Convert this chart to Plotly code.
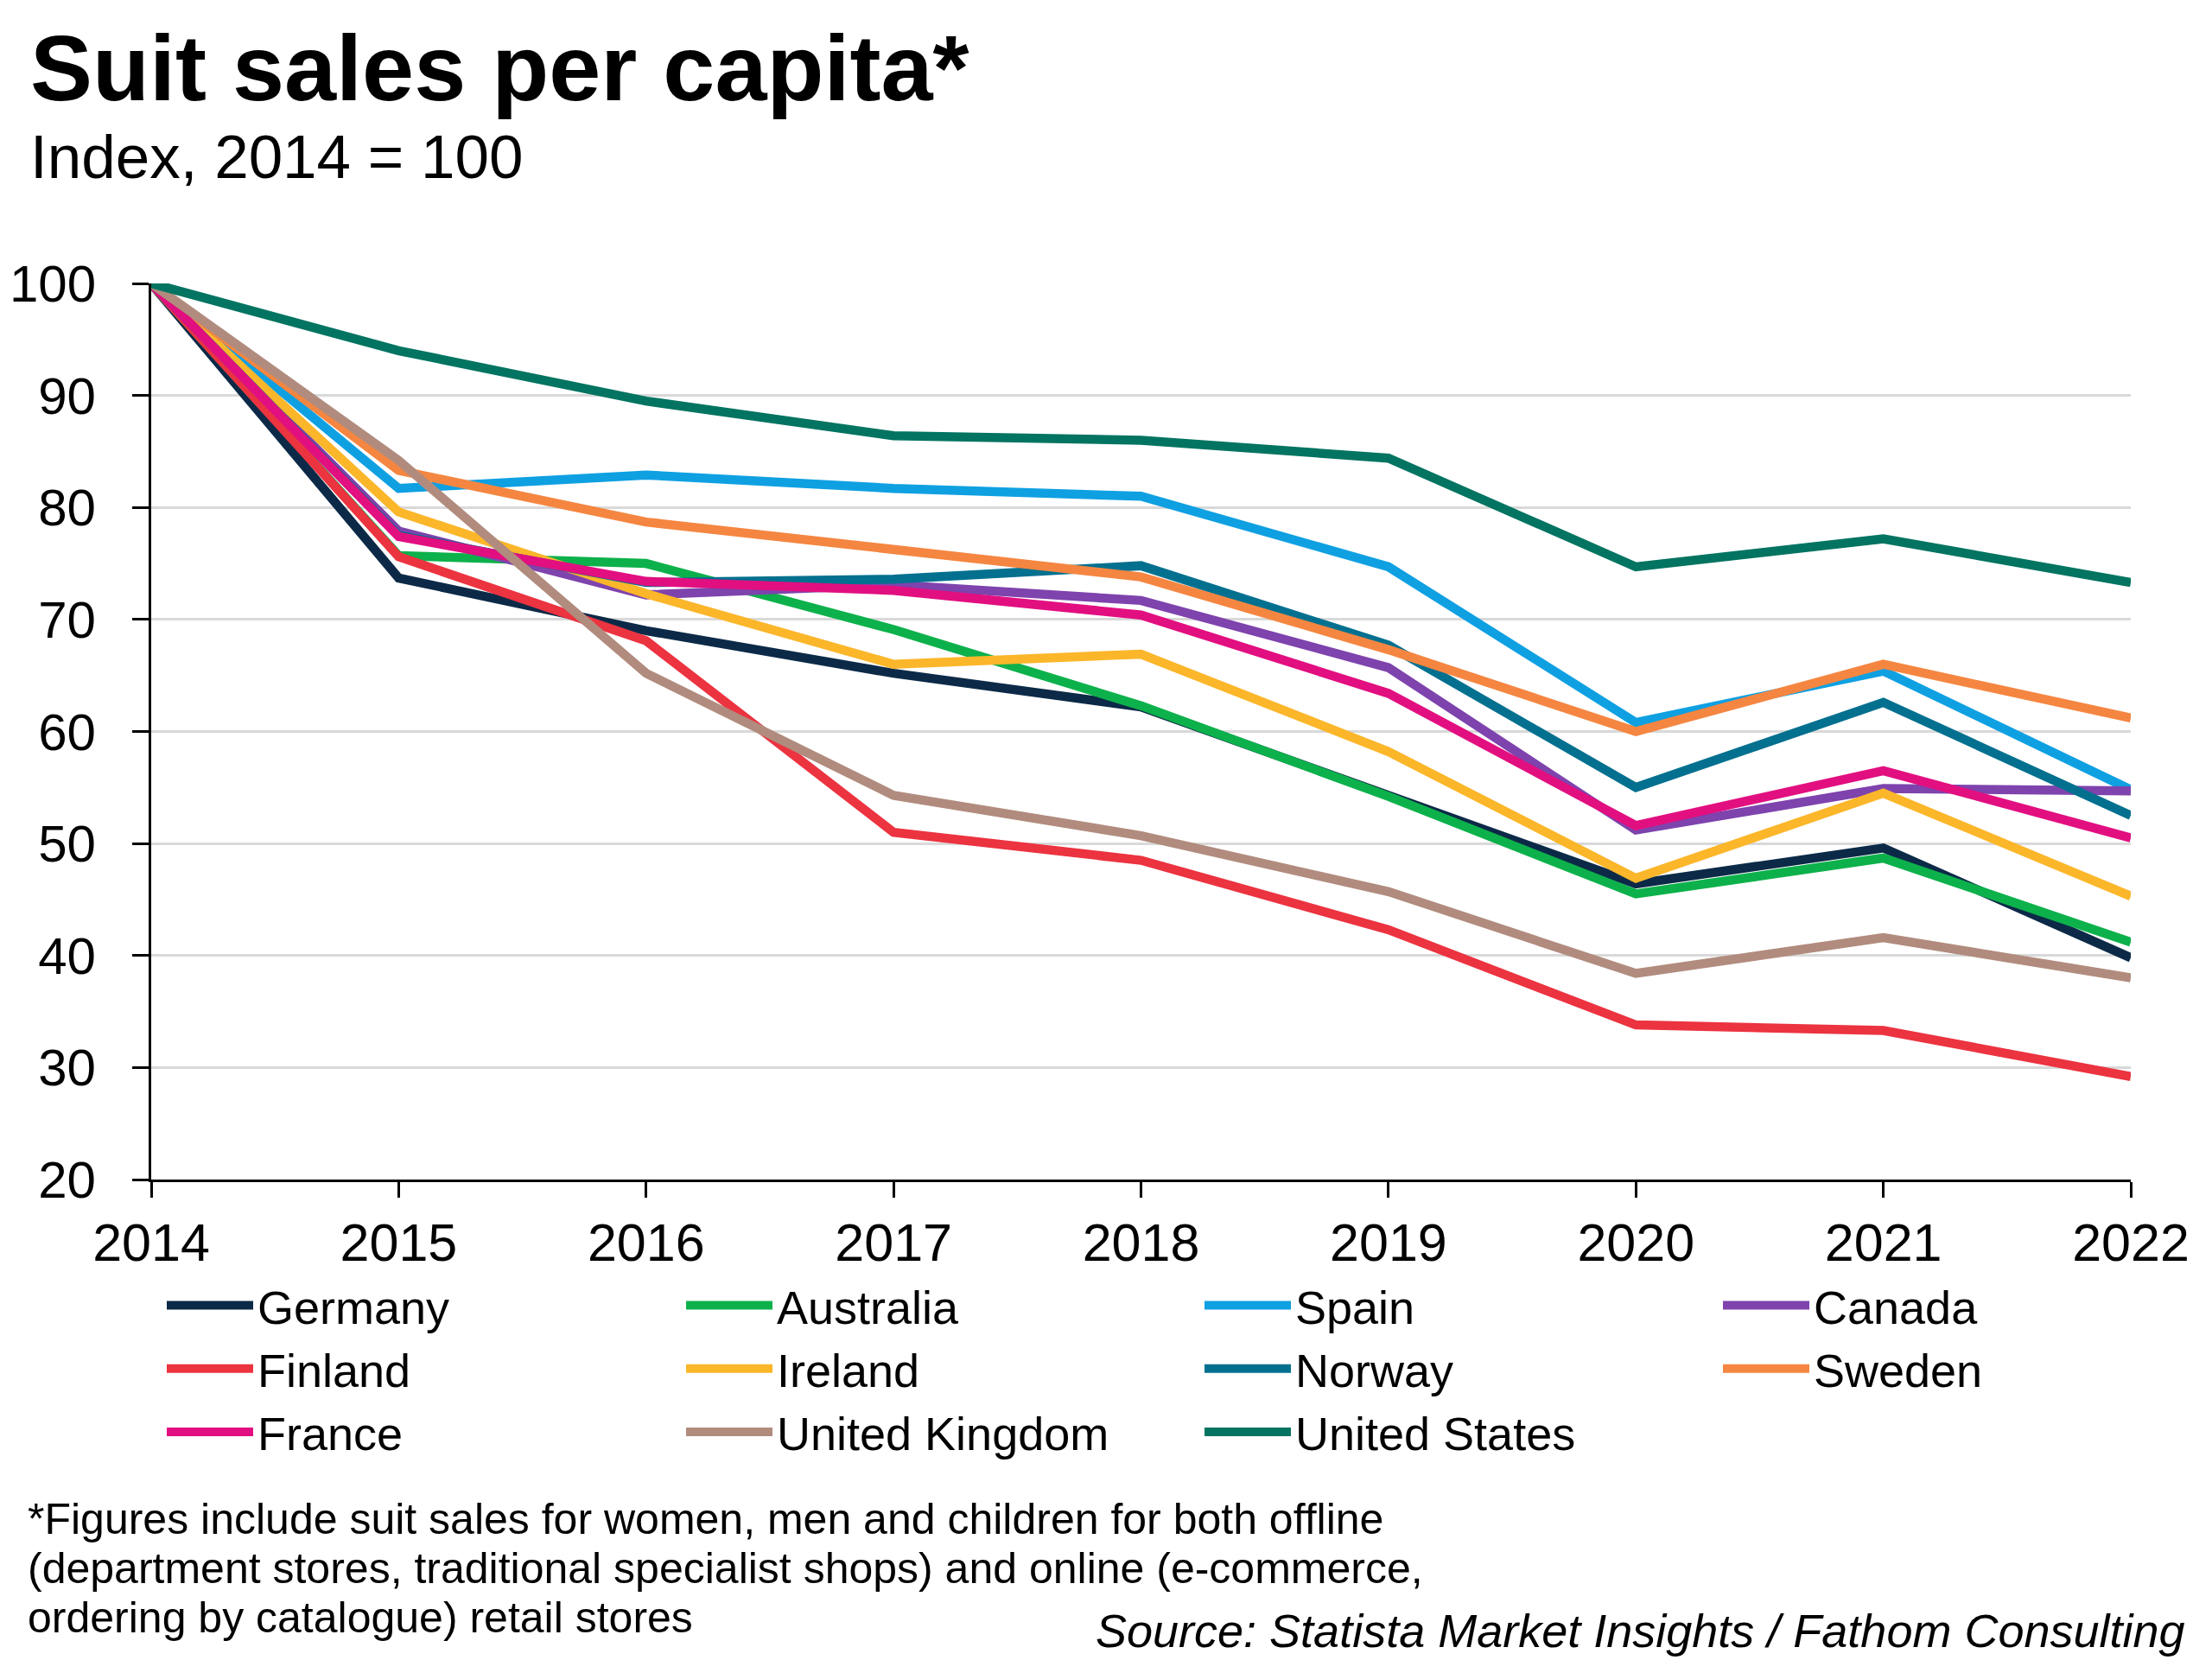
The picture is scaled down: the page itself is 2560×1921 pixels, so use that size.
import plotly.graph_objects as go

years = [2014, 2015, 2016, 2017, 2018, 2019, 2020, 2021, 2022]

germany   = [100, 73.7, 69.0, 65.2, 62.2, 54.3, 46.4, 49.6, 39.8]
australia = [100, 75.7, 75.0, 69.1, 62.3, 54.2, 45.5, 48.7, 41.2]
spain     = [100, 81.7, 82.9, 81.7, 81.0, 74.7, 60.8, 65.4, 54.8]
canada    = [100, 77.9, 72.2, 73.1, 71.7, 65.7, 51.2, 54.9, 54.7]
finland   = [100, 75.6, 68.1, 51.0, 48.5, 42.3, 33.8, 33.3, 29.2]
ireland   = [100, 79.6, 72.3, 66.0, 66.9, 58.2, 46.9, 54.5, 45.3]
norway    = [100, 77.5, 73.3, 73.6, 74.8, 67.7, 55.0, 62.6, 52.5]
sweden    = [100, 83.3, 78.7, 76.3, 73.8, 67.3, 60.0, 66.0, 61.2]
france    = [100, 77.4, 73.4, 72.6, 70.4, 63.4, 51.6, 56.5, 50.5]
uk        = [100, 84.2, 65.2, 54.3, 50.7, 45.7, 38.4, 41.6, 38.0]
us        = [100, 94.0, 89.5, 86.4, 86.0, 84.4, 74.7, 77.2, 73.3]

series = [
    ("Germany", germany, "#0c2a47", "legend"),
    ("Australia", australia, "#0db14b", "legend2"),
    ("Spain", spain, "#0fa0e2", "legend3"),
    ("Canada", canada, "#7e43ad", "legend4"),
    ("Finland", finland, "#ec3340", "legend"),
    ("Ireland", ireland, "#fbb62a", "legend2"),
    ("Norway", norway, "#03708f", "legend3"),
    ("Sweden", sweden, "#f58641", "legend4"),
    ("France", france, "#e20f80", "legend"),
    ("United Kingdom", uk, "#b18c7e", "legend2"),
    ("United States", us, "#027461", "legend3"),
]

FONT = "Liberation Sans, Arial, sans-serif"
W, H = 2560, 1921
L, R, T, B = 167, 102, 320, 564
PW = W - L - R
PH = H - T - B

fig = go.Figure()
for name, vals, color, lg in series:
    fig.add_trace(go.Scatter(
        x=years, y=vals, mode="lines", name=name,
        line=dict(color=color, width=10.5),
        cliponaxis=False, legend=lg,
    ))


def py(pix):
    return (H - B - pix) / PH


def px(pix):
    return (pix - L) / PW


annotations = [
    dict(text="<b>Suit sales per capita*</b>", x=px(25), y=py(71), xref="paper", yref="paper",
         xanchor="left", yanchor="middle", showarrow=False, font=dict(size=108, color="black", family=FONT)),
    dict(text="Index, 2014 = 100", x=px(25), y=py(173), xref="paper", yref="paper",
         xanchor="left", yanchor="middle", showarrow=False, font=dict(size=71, color="black", family=FONT)),
]
foot = [
    "*Figures include suit sales for women, men and children for both offline",
    "(department stores, traditional specialist shops) and online (e-commerce,",
    "ordering by catalogue) retail stores",
]
for i, line in enumerate(foot):
    annotations.append(dict(text=line, x=px(22), y=py(1750 + 57 * i), xref="paper", yref="paper",
                            xanchor="left", yanchor="middle", showarrow=False,
                            font=dict(size=50, color="black", family=FONT)))
annotations.append(dict(text="<i>Source: Statista Market Insights / Fathom Consulting</i>",
                        x=px(2523), y=py(1879), xref="paper", yref="paper",
                        xanchor="right", yanchor="middle", showarrow=False,
                        font=dict(size=54, color="black", family=FONT)))

ITEMW = 100
legend_common = dict(
    orientation="v", xref="container", yref="container", xanchor="left", yanchor="top",
    y=1 - 1461 / H, font=dict(size=54, color="black", family=FONT),
    bgcolor="rgba(0,0,0,0)", tracegroupgap=0, itemclick=False, itemwidth=ITEMW,
)
col_text_x = [300, 901, 1501, 2101]

fig.update_layout(
    width=W, height=H,
    margin=dict(l=L, r=R, t=T, b=B, autoexpand=False),
    plot_bgcolor="white", paper_bgcolor="white",
    font=dict(family=FONT, color="black"),
    showlegend=True,
    legend=dict(x=(col_text_x[0] - ITEMW - 20) / W, **legend_common),
    legend2=dict(x=(col_text_x[1] - ITEMW - 20) / W, **legend_common),
    legend3=dict(x=(col_text_x[2] - ITEMW - 20) / W, **legend_common),
    legend4=dict(x=(col_text_x[3] - ITEMW - 20) / W, **legend_common),
    annotations=annotations,
    xaxis=dict(
        range=[2014, 2022], tickmode="array", tickvals=years, ticktext=[str(y) for y in years],
        showgrid=False, zeroline=False, showline=True, linecolor="black", linewidth=3,
        ticks="outside", ticklen=18, tickwidth=3, tickcolor="black",
        tickfont=dict(size=61, color="black", family=FONT), ticklabelstandoff=0,
        automargin=False,
    ),
    yaxis=dict(
        range=[20, 100], tickmode="array", tickvals=[20, 30, 40, 50, 60, 70, 80, 90, 100],
        showgrid=True, gridcolor="#d9d9d9", gridwidth=3, zeroline=False,
        showline=True, linecolor="black", linewidth=3,
        ticks="outside", ticklen=19, tickwidth=3, tickcolor="black",
        tickfont=dict(size=60, color="black", family=FONT), ticklabelstandoff=30,
        automargin=False,
    ),
)

fig.write_html("out.html")
